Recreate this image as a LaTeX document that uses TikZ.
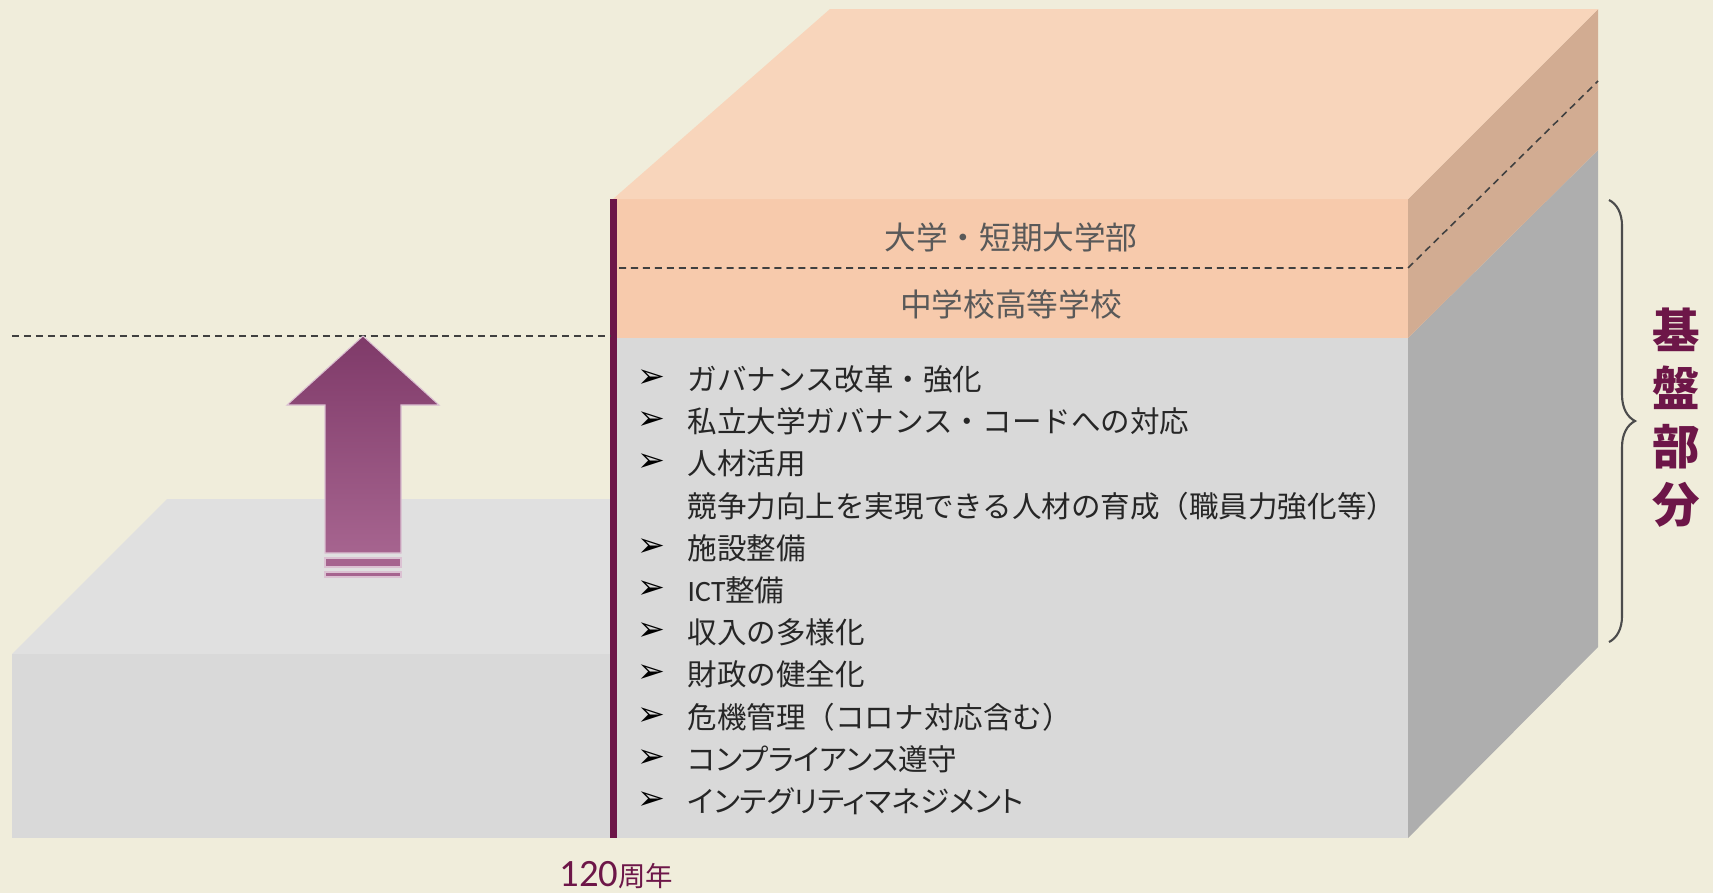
\documentclass[tikz,border=0pt]{standalone}
\usepackage{fontspec}
\newfontfamily\jpfont{Noto Sans CJK JP}
\newfontfamily\jppfont[RawFeature=+palt]{Noto Sans CJK JP}
\newfontfamily\latfont{Carlito}
\newfontfamily\symfont{DejaVu Sans}
\usetikzlibrary{decorations.pathreplacing}

\definecolor{bgcream}{HTML}{F0EDDB}
\definecolor{peachtop}{HTML}{F8D5BB}
\definecolor{peachfront}{HTML}{F7CAAC}
\definecolor{peachside}{HTML}{D2AC92}
\definecolor{grayfront}{HTML}{D9D9D9}
\definecolor{grayside}{HTML}{AEAEAE}
\definecolor{lefttop}{HTML}{E0E0E0}
\definecolor{kibanred}{HTML}{6D1648}
\definecolor{arrowtop}{HTML}{7F3A69}
\definecolor{arrowbot}{HTML}{A6648F}
\definecolor{txtdark}{HTML}{262626}
\definecolor{txtgray}{HTML}{595959}

\tikzset{
  guide/.style={dash pattern=on 2pt off 1.4pt, line width=0.45pt, black!75},
  listitem/.style={anchor=west, inner sep=0pt, text=txtdark,
    font=\jpfont\fontsize{8.4}{10}\selectfont},
  listmark/.style={inner sep=0pt, text=black,
    font=\symfont\fontsize{9.5}{11}\selectfont},
  layerlabel/.style={inner sep=0pt, text=txtgray,
    font=\jpfont\fontsize{9}{11}\selectfont}
}

\begin{document}
\begin{tikzpicture}[x=0.01cm, y=-0.01cm]
\useasboundingbox (0,0) rectangle (1713,893);
\fill[bgcream] (0,0) rectangle (1713,893);

% Left (lower) block
\fill[lefttop] (12,654) -- (167,499) -- (617,499) -- (617,654) -- cycle;
\fill[grayfront] (12,654) rectangle (617,838);

% Main block: front faces
\fill[grayfront] (617,338) rectangle (1408,838);
\fill[peachfront] (617,199) rectangle (1408,338);
% Main block: right side
\fill[grayside] (1408,338) -- (1598,150) -- (1598,647) -- (1408,838) -- cycle;
\fill[peachside] (1408,199) -- (1598,9) -- (1598,150) -- (1408,338) -- cycle;
% Main block: top
\fill[peachtop] (613,199) -- (830,9) -- (1598,9) -- (1408,199) -- cycle;

% 120th anniversary bar
\fill[kibanred] (610,199) rectangle (617,838);

% Dashed guides
\draw[guide] (12,336) -- (610,336);
\draw[guide] (619,268) -- (1408,268) -- (1598,81);

% Growth arrow
\shade[top color=arrowtop, bottom color=arrowbot, draw=arrowbot!40!white, line width=0.3pt]
  (363,336) -- (439,405) -- (401,405) -- (401,553) -- (325,553) -- (325,405) -- (287,405) -- cycle;
\fill[arrowbot, draw=arrowbot!40!white, line width=0.3pt] (325,558) rectangle (401,567);
\fill[arrowbot, draw=arrowbot!40!white, line width=0.3pt] (325,572) rectangle (401,577);

% Layer labels
\node[layerlabel] (univ) at (1011,237) {大学・短期大学部};
\node[layerlabel] (hs) at (1011,304) {中学校高等学校};

% List of items
\foreach \n/\y/\t in {1/379/ガバナンス改革・強化,
                      2/421/私立大学ガバナンス・コードへの対応,
                      3/463/人材活用,
                      5/548/施設整備,
                      6/590/{{\latfont ICT}整備},
                      7/632/収入の多様化,
                      8/674/財政の健全化,
                      9/717/危機管理（コロナ対応含む）,
                      10/759/{{\jppfont コンプライアンス}遵守},
                      11/801/{{\jppfont インテグリティマネジメント}}}
{
  \node[listmark] (mark\n) at (651,\y) {➢};
  \node[listitem] (item\n) at (687,\y) {\t};
}
\node[listitem] (item4) at (687,506) {競争力向上を実現できる人材の育成（職員力強化等）};

% Brace and side label
\draw[black!70, line width=0.6pt, decorate, decoration={brace, amplitude=0.26cm}]
  (1609,200) -- (1609,642);
\node[inner sep=0pt, text=kibanred, align=center,
      font=\jpfont\bfseries\fontsize{13.5}{16.5}\selectfont] (kiban) at (1676,418)
  {基\\盤\\部\\分};

% Anniversary label
\node[anchor=base west, inner sep=0pt, text=kibanred] (year) at (559,886)
  {{\latfont\fontsize{11}{12}\selectfont 120}{\jpfont\fontsize{7.8}{9}\selectfont 周年}};

\end{tikzpicture}
\end{document}
